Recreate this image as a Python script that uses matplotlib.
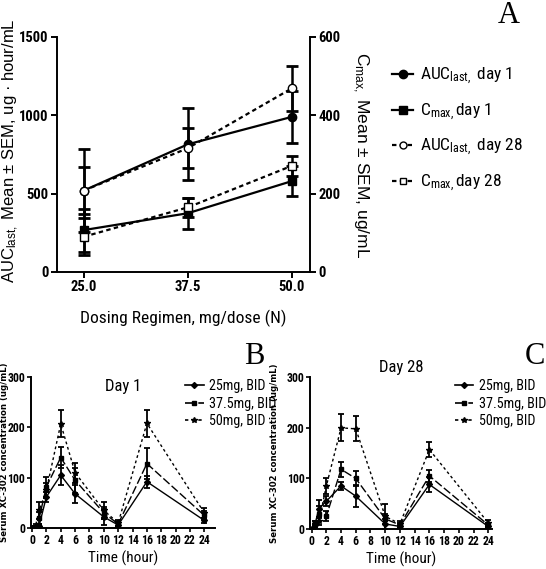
import numpy as np
import matplotlib.pyplot as plt
from matplotlib.lines import Line2D

NARROW = ['Roboto Condensed', 'Liberation Sans Narrow', 'DejaVu Sans']
WIDE = ['Liberation Sans', 'DejaVu Sans']
plt.rcParams['font.family'] = NARROW
plt.rcParams['font.stretch'] = 'condensed'
plt.rcParams['axes.linewidth'] = 1.4
plt.rcParams['mathtext.default'] = 'regular'

# Panel A: PK parameters vs dose
dose = [25.0, 37.5, 50.0]
auc_d1 = [520, 815, 990]
auc_d1_sem = [150, 230, 165]
auc_d28 = [520, 790, 1172]
auc_d28_sem = [265, 128, 145]
cmax_d1 = [107, 150, 232]
cmax_d1_sem = [55, 40, 38]
cmax_d28 = [90, 165, 271]
cmax_d28_sem = [47, 25, 25]

# Panels B and C: concentration-time profiles
t = [0, 0.5, 1, 2, 4, 6, 10, 12, 16, 24]
d1_25 = [0, 0, 5, 62, 105, 68, 22, 6, 92, 15]
d1_25_sem = [0, 0, 3, 10, 20, 18, 15, 4, 12, 5]
d1_375 = [0, 2, 20, 82, 140, 95, 30, 8, 128, 25]
d1_375_sem = [0, 2, 12, 20, 20, 25, 12, 4, 30, 8]
d1_50 = [0, 5, 35, 75, 207, 110, 35, 10, 208, 30]
d1_50_sem = [0, 3, 17, 15, 27, 20, 17, 5, 27, 10]

d28_25 = [0, 12, 40, 55, 85, 65, 10, 5, 88, 5]
d28_25_sem = [0, 3, 18, 10, 8, 22, 10, 3, 15, 3]
d28_375 = [0, 12, 30, 25, 118, 100, 20, 8, 105, 8]
d28_375_sem = [0, 3, 15, 10, 15, 15, 10, 4, 12, 4]
d28_50 = [0, 5, 15, 85, 200, 198, 25, 10, 157, 12]
d28_50_sem = [0, 3, 8, 15, 27, 25, 25, 5, 15, 5]

dose_labels = ['25mg, BID', '37.5mg, BID', '50mg, BID']

fig = plt.figure(figsize=(5.46, 5.69), dpi=100)

# ---------------- Panel A ----------------
ax = fig.add_axes([0.104, 0.522, 0.464, 0.413])
ax2 = ax.twinx()
k = dict(color='black', lw=1.6, capsize=4, capthick=2, elinewidth=1.8, ms=6)
ax.errorbar(dose, auc_d1, yerr=auc_d1_sem, marker='o', ls='-', **k)
ax.errorbar(dose, auc_d28, yerr=auc_d28_sem, marker='o', mfc='white', ls=(0, (2, 1.5)), **k)
ax2.errorbar(dose, cmax_d1, yerr=cmax_d1_sem, marker='s', ls='-', **k)
ax2.errorbar(dose, cmax_d28, yerr=cmax_d28_sem, marker='s', mfc='white', ls=(0, (2, 1.5)), **k)

ax.set_xlim(21.75, 52.2)
ax.set_ylim(0, 1500)
ax2.set_ylim(0, 600)
ax.set_xticks(dose)
ax.set_xticklabels(['25.0', '37.5', '50.0'])
ax.set_yticks([0, 500, 1000, 1500])
ax2.set_yticks([0, 200, 400, 600])
for a in (ax, ax2):
    a.spines['top'].set_visible(False)
    a.tick_params(width=1.4, length=4, labelsize=10.5, pad=2)
    for lab in a.get_xticklabels() + a.get_yticklabels():
        lab.set_fontweight('bold')
ax.spines['right'].set_visible(False)
ax2.spines['left'].set_visible(False)
ax2.spines['bottom'].set_visible(False)

ax.set_xlabel('Dosing Regimen, mg/dose (N)', fontsize=12.5, labelpad=11)
fig.text(0.019, 0.736, 'AUC$_{last,}$ Mean ± SEM, ug · hour/mL', rotation=90,
         ha='center', va='center', fontsize=12, family=WIDE)
fig.text(0.659, 0.728, 'C$_{max,}$ Mean ± SEM, ug/mL', rotation=270,
         ha='center', va='center', fontsize=12.5, family=WIDE)

handles = [
    Line2D([], [], color='black', lw=1.6, marker='o', ms=6),
    Line2D([], [], color='black', lw=1.6, marker='s', ms=6),
    Line2D([], [], color='black', lw=1.6, marker='o', ms=5, mfc='white', ls=(0, (2, 1.5))),
    Line2D([], [], color='black', lw=1.6, marker='s', ms=5, mfc='white', ls=(0, (2, 1.5))),
]
labels = ['AUC$_{last,}$ day 1', 'C$_{max,}$day 1', 'AUC$_{last,}$ day 28', 'C$_{max,}$day 28']
fig.legend(handles, labels, loc='upper left', bbox_to_anchor=(0.69, 0.912),
           frameon=False, fontsize=12.5, handlelength=1.2, handletextpad=0.4,
           labelspacing=0.85)
fig.text(0.932, 0.972, 'A', fontsize=22, family='Liberation Serif', ha='center', va='center')


# ---------------- Panels B, C ----------------
def profile(rect, series, sems, title, title_y, xmax, ylab_x, leg_anchor, letter_pos, letter):
    a = fig.add_axes(rect)
    styles = [('-', 'D', 3), ((0, (6, 2)), 's', 3), ((0, (2, 2)), '*', 4)]
    hs = []
    for y, e, (ls, mk, ms) in zip(series, sems, styles):
        a.errorbar(t, y, yerr=e, color='black', lw=1.0, ls=ls, marker=mk, ms=ms,
                   capsize=2.5, capthick=1.3, elinewidth=1.3)
        hs.append(Line2D([], [], color='black', lw=1.2, ls=ls, marker=mk, ms=ms))
    a.set_xlim(-0.2, xmax)
    a.set_ylim(0, 300)
    a.set_xticks(np.arange(0, 25, 2))
    a.set_yticks([0, 100, 200, 300])
    a.spines['top'].set_visible(False)
    a.spines['right'].set_visible(False)
    a.tick_params(width=1.2, length=3, labelsize=8.5, pad=1)
    for lab in a.get_xticklabels() + a.get_yticklabels():
        lab.set_fontweight('bold')
    a.set_xlabel('Time (hour)', fontsize=11, labelpad=3)
    a.set_ylabel('Serum XC-302 concentration (ug/mL)', fontsize=6.8, fontweight='bold',
                 family=['DejaVu Sans'])
    a.yaxis.set_label_coords(ylab_x, 0.5)
    a.text(0.5, title_y, title, transform=a.transAxes, ha='center', va='center', fontsize=12)
    fig.legend(hs, dose_labels, loc='upper left', bbox_to_anchor=leg_anchor, frameon=False,
               fontsize=10.2, handlelength=1.3, handletextpad=0.4, labelspacing=0.25)
    fig.text(letter_pos[0], letter_pos[1], letter, fontsize=22, family='Liberation Serif',
             ha='center', va='center')
    return a


profile([0.056, 0.072, 0.338, 0.2654], [d1_25, d1_375, d1_50],
        [d1_25_sem, d1_375_sem, d1_50_sem], 'Day 1', 0.94, 25.5, -0.117,
        (0.316, 0.356), (0.465, 0.373), 'B')
profile([0.568, 0.0703, 0.333, 0.2667], [d28_25, d28_375, d28_50],
        [d28_25_sem, d28_375_sem, d28_50_sem], 'Day 28', 1.066, 24.5, -0.17,
        (0.81, 0.356), (0.98, 0.373), 'C')

fig.savefig('out.png', dpi=100)
